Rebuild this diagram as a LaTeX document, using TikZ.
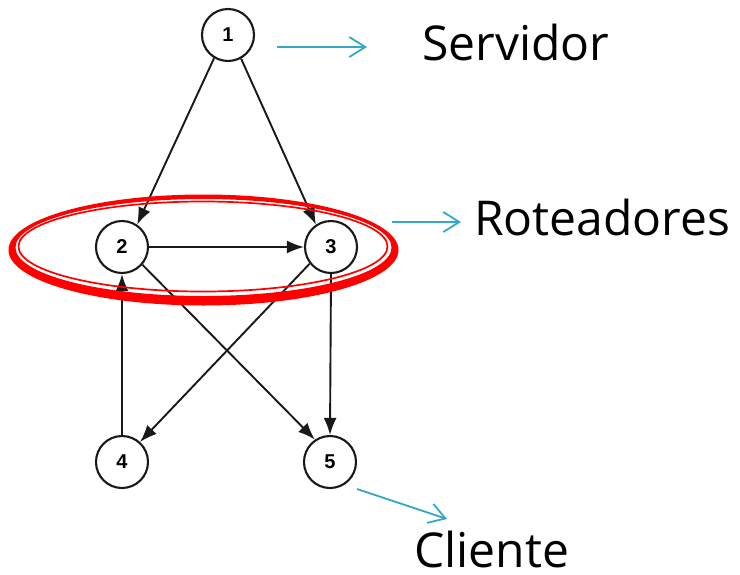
\documentclass[tikz,border=0pt]{standalone}
\usepackage{fontspec}
\setmainfont{Open Sans}
\newfontfamily\digitfont{Liberation Sans}
\usetikzlibrary{arrows.meta}
\definecolor{pointer}{RGB}{52,168,200}
\definecolor{ink}{RGB}{25,25,25}
\definecolor{ringred}{RGB}{255,0,0}
\tikzset{
  vertex/.style={circle, draw=ink, line width=2.1pt, minimum size=52pt,
    inner sep=0pt, font=\digitfont\bfseries\fontsize{20}{20}\selectfont},
  edge/.style={draw=ink, line width=1.9pt, -{Latex[length=17pt,width=13pt]}},
  pointer/.style={draw=pointer, line width=1.8pt, -{Straight Barb[length=16pt,width=20pt,line width=1.8pt]}},
  caption/.style={anchor=base west, inner sep=0pt, font=\fontsize{48}{58}\selectfont}
}
\begin{document}
\begin{tikzpicture}[x=1pt, y=-1pt]
  \useasboundingbox (0,0) rectangle (740,574);
  \fill[white] (0,0) rectangle (740,574);

  % network nodes
  \node[vertex] (n1) at (228,35) {1};
  \node[vertex] (n2) at (122,247) {2};
  \node[vertex] (n3) at (331,247) {3};
  \node[vertex] (n4) at (122,462) {4};
  \node[vertex] (n5) at (330,462) {5};

  % links
  \draw[edge] (n1.239) -- (n2.56);
  \draw[edge] (n1.299) -- (n3.124);
  \draw[edge] (n2.east) -- (n3.west);
  \draw[edge] (n4.north) -- (n2.south);
  \draw[edge] (n3.south) -- (n5.north);
  \draw[edge] (n2.319) -- (n5.124);
  \draw[edge] (n3.218) -- (n4.48);

  % red ring around the routers: thick band plus thin inner line
  \fill[ringred, even odd rule]
    (203.5,250) ellipse [x radius=195, y radius=55.5]
    (203.5,247.5) ellipse [x radius=188, y radius=48.5];
  \draw[ringred, line width=1.7pt] (203,246.5) ellipse [x radius=184.5, y radius=45];

  % labels
  \node[caption] (srv) at (422,60) {Servidor};
  \node[caption] (rot) at (474,235) {Roteadores};
  \node[caption] (cli) at (414,567) {Cliente};

  % pointers to the labels
  \coordinate (p1a) at (277,47);
  \coordinate (p1b) at (367,47);
  \coordinate (p2a) at (392,222);
  \coordinate (p2b) at (461,222);
  \coordinate (p3a) at (357,489);
  \coordinate (p3b) at (447,519);
  \draw[pointer] (p1a) -- (p1b);
  \draw[pointer] (p2a) -- (p2b);
  \draw[pointer] (p3a) -- (p3b);
\end{tikzpicture}
\end{document}
